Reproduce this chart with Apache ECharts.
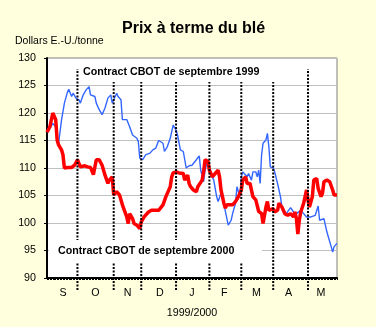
<!DOCTYPE html>
<html lang="fr">
<head>
<meta charset="UTF-8">
<title>Prix à terme du blé</title>
<script src="https://cdn.jsdelivr.net/npm/echarts@6/dist/echarts.min.js"></script>
<style>
  html, body { margin: 0; padding: 0; background: #fffedd; }
  #chart { width: 376px; height: 327px; }
</style>
</head>
<body>
<div id="chart"></div>
<script>
  // jours de bourse depuis début septembre 1999 (0..200)
  let months = ['S', 'O', 'N', 'D', 'J', 'F', 'M', 'A', 'M'];
  let monthBreaks = [21, 46, 65, 89, 112, 134, 156, 180];

  // Contract CBOT de septembre 1999 (bleu)
  let blueDays = [0, 2, 4, 6, 7, 8, 10, 12, 14, 15, 17, 18, 19, 20, 21, 22, 23, 25, 26, 27, 29, 30,
    33, 34, 36, 38, 40, 42, 44, 45, 46, 48, 49, 51, 52, 55, 57, 59, 62, 63, 64, 66, 68, 71, 73, 75,
    77, 80, 81, 83, 85, 87, 89, 90, 92, 94, 95, 96, 98, 100, 103, 105, 106, 108, 109, 111, 112, 115,
    117, 118, 120, 122, 123, 125, 126, 127, 128, 130, 131, 133, 134, 135, 138, 139, 141, 142, 144,
    145, 146, 147, 148, 149, 151, 152, 153, 154, 156, 157, 159, 160, 161, 162, 164, 165, 168, 170,
    172, 175, 177, 179, 182, 185, 187, 188, 191, 193, 194, 196, 197, 198, 200];
  let bluePrices = [116.5, 117.2, 118.1, 117.5, 115.5, 114.5, 118.7, 121.8, 123.7, 124.3, 123, 123.6,
    123.3, 122.7, 123, 122.4, 121.8, 123.3, 123.6, 124.2, 124.8, 123.3, 123, 121.8, 120.6, 119.7,
    120.9, 122.7, 123.3, 121.8, 122.4, 123.6, 123, 122.4, 118.8, 118.8, 117.5, 116, 115.4, 114.8,
    111.8, 111.5, 112.4, 112.7, 113.3, 113.6, 115, 114.5, 113, 113.9, 115.4, 117.8, 116.9, 116, 113.3,
    113, 111.5, 110, 110.4, 110.5, 111.5, 112.2, 109.6, 107.5, 109.6, 111.5, 109.6, 107.8, 104.8,
    103.9, 105.4, 103.6, 102.1, 99.6, 99.3, 100.5, 101.7, 103.6, 106.6, 104.8, 108.4, 109.3, 108.4,
    109, 107.8, 109.3, 109.3, 108.4, 109.6, 107.2, 112.4, 114.5, 115.1, 116.3, 113.9, 110.2, 110,
    109.3, 107.2, 106, 104.8, 102.9, 102.1, 101.7, 102.8, 102, 101.7, 102.3, 101.7, 101.1, 101.1,
    101.4, 103.1, 100.5, 100.8, 98.4, 97.5, 95.7, 94.7, 95.7, 96.3];

  // Contract CBOT de septembre 2000 (rouge)
  let redDays = [0, 2, 4, 5, 6, 7, 8, 10, 11, 12, 14, 17, 19, 21, 22, 23, 26, 28, 30, 32, 34, 36, 38,
    40, 42, 43, 45, 46, 48, 50, 52, 55, 56, 57, 59, 60, 62, 64, 65, 67, 70, 72, 77, 78, 80, 82, 85,
    86, 87, 89, 91, 94, 95, 97, 98, 99, 101, 103, 104, 107, 108, 109, 111, 112, 114, 116, 118, 119,
    120, 122, 123, 124, 128, 130, 132, 134, 135, 137, 138, 140, 141, 142, 144, 146, 148, 149, 151,
    152, 153, 154, 156, 157, 159, 160, 162, 164, 166, 168, 170, 171, 172, 173, 174, 175, 177, 178,
    179, 180, 181, 183, 184, 186, 187, 189, 190, 191, 193, 195, 197, 198, 200];
  let redPrices = [116.5, 117.5, 120, 120.3, 118.8, 115.1, 114.2, 113.3, 112.4, 110, 110.1, 110.1,
    110.5, 111.5, 111.8, 110.2, 110.4, 110.2, 110.1, 108.8, 111.5, 111.5, 110.5, 108.7, 107.2, 107.8,
    108.4, 105.1, 105.7, 105.1, 103.3, 101.1, 99.9, 101.7, 100.8, 99.9, 99.6, 99, 100.2, 101.1, 102,
    102.3, 102.3, 102.6, 103.3, 104.8, 106.6, 108.4, 109.1, 109.3, 109.1, 109, 107.8, 108.7, 107.2,
    106.6, 106, 105.7, 106.6, 107.8, 109.3, 111.5, 111.2, 109.6, 108.4, 109, 109.6, 108.4, 106,
    103.6, 102.7, 103.3, 103.3, 103.9, 104.8, 106, 107.8, 108.4, 107.2, 107.2, 106, 104.8, 104.2,
    102.1, 101.7, 99.9, 102.9, 103.9, 102.3, 102.6, 102.6, 102, 102.3, 103.6, 102.9, 101.7, 101.4,
    101.7, 101.1, 102, 100.8, 98, 100.5, 102, 103.6, 104.8, 106, 104.2, 102.9, 104.8, 107.8, 108.1,
    106.3, 104.8, 105.4, 107.5, 107.8, 107.5, 106, 105.1, 105.1];

  let zip = (xs, ys) => xs.map((x, i) => [x, ys[i]]);
  let fontFamily = '"Liberation Sans", Arial, sans-serif';

  // lignes pointillées de séparation des mois
  let breakSeries = monthBreaks.map(d => ({
    type: 'line',
    data: [[d, 87.8], [d, 128]],
    symbol: 'none',
    clip: false,
    silent: true,
    z: 5,
    lineStyle: { color: '#000', width: 2, type: [2, 1.5] }
  }));

  let chart = echarts.init(document.getElementById('chart'));

  chart.setOption({
    backgroundColor: '#fffedd',
    animation: false,
    title: [{
      text: 'Prix à terme du blé',
      left: 122, top: 21, padding: 0,
      textStyle: { fontFamily: fontFamily, fontSize: 16, fontWeight: 'bold', color: '#000' }
    }, {
      text: 'Dollars E.-U./tonne',
      left: 15, top: 36, padding: 0,
      textStyle: { fontFamily: fontFamily, fontSize: 10.5, fontWeight: 'normal', color: '#000' }
    }],
    grid: {
      left: 47, right: 39, top: 58, bottom: 49,
      show: true, backgroundColor: '#fff', borderColor: '#808080', borderWidth: 1
    },
    xAxis: [{
      type: 'value', min: 0, max: 200, interval: 1,
      axisLine: { lineStyle: { color: '#000', width: 2 } },
      axisTick: { length: 2, lineStyle: { color: '#000' } },
      axisLabel: { show: false },
      splitLine: { show: false },
      name: '1999/2000', nameLocation: 'middle', nameGap: 30,
      nameTextStyle: { fontFamily: fontFamily, fontSize: 10.7, color: '#000' }
    }, {
      type: 'category', data: months, position: 'bottom',
      axisLine: { show: false }, axisTick: { show: false },
      axisLabel: { margin: 10, fontFamily: fontFamily, fontSize: 10.7, color: '#000' }
    }],
    yAxis: {
      type: 'value', min: 90, max: 130, interval: 5,
      axisLine: { show: true, lineStyle: { color: '#000', width: 2 } },
      axisTick: { show: true, length: 3, lineStyle: { color: '#000' } },
      axisLabel: { margin: 11, fontFamily: fontFamily, fontSize: 10.7, color: '#000' },
      splitLine: { lineStyle: { color: '#c0c0c0', width: 1 } }
    },
    series: [{
      name: 'Contract CBOT de septembre 1999',
      type: 'line', data: zip(blueDays, bluePrices),
      symbol: 'none', z: 3,
      lineStyle: { color: '#3366ff', width: 1.4 }
    }, {
      name: 'Contract CBOT de septembre 2000',
      type: 'line', data: zip(redDays, redPrices),
      symbol: 'none', z: 4,
      lineStyle: { color: '#ff0000', width: 3.5 }
    }].concat(breakSeries),
    graphic: [{
      type: 'rect', z: 100, silent: true,
      shape: { x: 80, y: 62, width: 215, height: 20 },
      style: { fill: '#fff' }
    }, {
      type: 'text', z: 101, silent: true, x: 83, y: 72.5,
      style: { text: 'Contract CBOT de septembre 1999', fill: '#000',
        font: 'bold 10.7px ' + fontFamily, verticalAlign: 'middle' }
    }, {
      type: 'rect', z: 100, silent: true,
      shape: { x: 49, y: 240, width: 213, height: 22 },
      style: { fill: '#fff' }
    }, {
      type: 'text', z: 101, silent: true, x: 58, y: 251,
      style: { text: 'Contract CBOT de septembre 2000', fill: '#000',
        font: 'bold 10.7px ' + fontFamily, verticalAlign: 'middle' }
    }]
  });
</script>
</body>
</html>
